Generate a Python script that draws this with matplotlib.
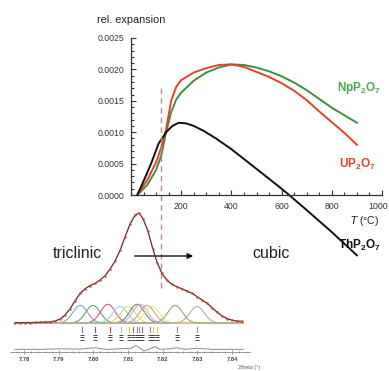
import matplotlib
matplotlib.use('Agg')
import matplotlib.pyplot as plt
import matplotlib.transforms as mtransforms
import numpy as np

plt.rcParams['font.family'] = ['Liberation Sans', 'DejaVu Sans']
plt.rcParams['mathtext.default'] = 'regular'

# relative thermal expansion vs temperature (degC)
temp_np = [25, 65, 100, 120, 140, 160, 180, 200, 250, 300, 350, 400, 450, 500, 550, 600, 650, 700, 750, 800, 850, 900]
exp_np = [0, 0.00016, 0.00040, 0.00062, 0.00100, 0.00132, 0.00152, 0.00163, 0.00182, 0.00195, 0.00203, 0.00208,
          0.00207, 0.00203, 0.00197, 0.00189, 0.00179, 0.00167, 0.00153, 0.00139, 0.00127, 0.00115]

temp_u = [25, 65, 100, 120, 140, 160, 180, 200, 250, 300, 350, 400, 450, 500, 550, 600, 650, 700, 750, 800, 850, 900]
exp_u = [0, 0.00024, 0.00052, 0.00075, 0.00105, 0.00150, 0.00172, 0.00183, 0.00195, 0.00202, 0.00207, 0.00208,
         0.00204, 0.00196, 0.00188, 0.00178, 0.00166, 0.00151, 0.00133, 0.00116, 0.00099, 0.00080]

temp_th = [25, 50, 80, 110, 140, 165, 190, 220, 250, 290, 335, 400, 470, 540, 600, 630, 700, 800, 900]
exp_th = [0, 0.00022, 0.00050, 0.00082, 0.00100, 0.00110, 0.00115, 0.00114, 0.00110, 0.00102, 0.00091, 0.00073,
          0.00051, 0.00029, 0.00010, 0.0, -0.00024, -0.00059, -0.00096]

transition_T = 120

# powder pattern inset (2theta, intensity in arb. units)
obs_2th = [7.7774, 7.7788, 7.7803, 7.7817, 7.7832, 7.7846, 7.7860, 7.7875, 7.7889, 7.7904, 7.7918, 7.7933,
           7.7947, 7.7962, 7.7976, 7.7990, 7.8005, 7.8019, 7.8034, 7.8048, 7.8062, 7.8077, 7.8091, 7.8106,
           7.8120, 7.8132, 7.8143, 7.8157, 7.8172, 7.8184, 7.8198, 7.8212, 7.8227, 7.8241, 7.8256, 7.8270,
           7.8285, 7.8299, 7.8313, 7.8328, 7.8342, 7.8357, 7.8371, 7.8386, 7.8400, 7.8414, 7.8429]
obs_int = [0.3, 0.2, 0.4, 0.3, 0.5, 0.6, 0.8, 1.0, 1.8, 3.5, 7, 13,
           20, 27, 31, 34, 36, 39, 43, 49, 56, 66, 78, 90,
           98, 100, 95, 84, 67, 55, 45, 39, 35, 33, 31, 29,
           27, 24, 21, 18, 14, 10, 6.5, 4, 2.5, 1.8, 1.4]

comp_centers = [7.7962, 7.7999, 7.8042, 7.8077, 7.8100, 7.8126, 7.8135, 7.8155, 7.8169, 7.8236, 7.8299]
comp_heights = [16, 16, 17, 15, 15, 17, 17, 16, 15, 16, 15]
comp_sigma = 0.0021
comp_colors = ['#7aa6d6', '#5f9f6f', '#c4569a', '#9dd3e6', '#e8dc5a', '#5e8f62', '#e7a3c6',
               '#b7a88a', '#f2e36e', '#9fa86a', '#b0b0b0']

refl_pos = [7.7967, 7.8005, 7.8048, 7.8080, 7.8103, 7.8114, 7.8126, 7.8132, 7.8140,
            7.8163, 7.8172, 7.8184, 7.8241, 7.8299]
refl_colors = ['#5a7fb5', '#666666', '#d0303a', '#8cc8e0', '#e0c840', '#777777', '#888888',
               '#999999', '#777777', '#c07090', '#e0d050', '#e0c840', '#888888', '#999999']

diff_2th = [7.7774, 7.7846, 7.7904, 7.7962, 7.8005, 7.8034, 7.8077, 7.8109, 7.8123, 7.8135, 7.8146,
            7.8163, 7.8178, 7.8192, 7.8221, 7.8241, 7.8264, 7.8299, 7.8342, 7.8432]
diff_int = [-24, -24, -23.5, -23.8, -22.5, -24, -23.5, -23, -20.5, -23, -25.5,
            -23.5, -21.5, -24, -23.5, -22.5, -24, -23, -24, -24]

W, H = 389.0, 371.0
fig = plt.figure(figsize=(W / 100, H / 100), dpi=100)


def box(x0, y0, x1, y1):
    # pixel box (top-left origin) -> figure rect
    return [x0 / W, 1 - y1 / H, (x1 - x0) / W, (y1 - y0) / H]


def ftext(x, y, s, **kw):
    fig.text(x / W, 1 - y / H, s, **kw)


# ---- main expansion plot
ax = fig.add_axes(box(131, 31.7, 382, 270.4))
ax.patch.set_alpha(0)
ax.plot(temp_np, exp_np, color='#3e8e3e', lw=1.4)
ax.plot(temp_u, exp_u, color='#e5412a', lw=1.4)
ax.plot(temp_th, exp_th, color='#111111', lw=1.4)
ax.plot([transition_T, transition_T], [0.0017, -0.00151], ls=(0, (4, 3)), color='#b98c8c', lw=1.0, clip_on=False)

ax.set_xlim(0, 1000)
ax.set_ylim(-0.0012, 0.0026)
for s in ['top', 'right']:
    ax.spines[s].set_visible(False)
ax.spines['left'].set_bounds(0, 0.0025)
ax.spines['bottom'].set_position(('data', 0))
ax.spines['bottom'].set_bounds(0, 1000)
for s in ['left', 'bottom']:
    ax.spines[s].set_color('#333333')
    ax.spines[s].set_linewidth(0.9)

ax.set_yticks([0, 0.0005, 0.0010, 0.0015, 0.0020, 0.0025])
ax.set_yticklabels(['0.0000', '0.0005', '0.0010', '0.0015', '0.0020', '0.0025'])
ax.set_yticks(np.arange(0, 0.00251, 0.0001), minor=True)
ax.set_xticks([200, 400, 600, 800, 1000])
ax.set_xticks(np.arange(0, 1001, 50), minor=True)
ax.tick_params(which='both', direction='in', colors='#333333', width=0.8)
ax.tick_params(which='major', length=3.5, labelsize=6.3)
ax.tick_params(which='minor', length=2)
ax.tick_params(axis='y', pad=5)
ax.tick_params(axis='x', pad=5)

# nudge the last x label so it stays inside the picture
last = ax.get_xticklabels()[-1]
last.set_transform(last.get_transform() + mtransforms.ScaledTranslation(-3 / 72, 0, fig.dpi_scale_trans))

ftext(97, 20, 'rel. expansion', fontsize=7.8, color='#222222', va='center')
ftext(350, 221, r'$\it{T}$ (°C)', fontsize=7.5, color='#222222', va='center')
ftext(359, 88, r'NpP$_2$O$_7$', fontsize=8.5, color='#4caa4c', fontweight='bold', ha='center', va='center')
ftext(357, 164, r'UP$_2$O$_7$', fontsize=8.5, color='#e5412a', fontweight='bold', ha='center', va='center')
ftext(359, 245, r'ThP$_2$O$_7$', fontsize=8.5, color='#111111', fontweight='bold', ha='center', va='center')

# ---- powder pattern inset
axi = fig.add_axes(box(10, 205, 250, 352))
axi.patch.set_alpha(0)
xx = np.linspace(7.7774, 7.8432, 400)
axi.plot([7.7774, 7.8432], [0, 0], color='#b5a878', lw=0.6)
for c, h, col in zip(comp_centers, comp_heights, comp_colors):
    axi.plot(xx, h * np.exp(-0.5 * ((xx - c) / comp_sigma) ** 2), color=col, lw=0.8)
axi.plot(obs_2th, obs_int, color='#4a3434', lw=0.9)
axi.plot(obs_2th, obs_int, 'o', color='#d9472b', ms=1.8, mew=0)

for p, col in zip(refl_pos, refl_colors):
    axi.plot([p, p], [-4, -8], color=col, lw=0.8)
    axi.plot([p, p, p], [-10.5, -13, -15.5], '_', color='#444444', ms=2.5, mew=0.7)
axi.plot(diff_2th, diff_int, color='#6f9a6f', lw=0.7)

axi.set_xlim(7.77596, 7.84519)
axi.set_ylim(-26.4, 107.3)
for s in ['top', 'right', 'left']:
    axi.spines[s].set_visible(False)
axi.spines['bottom'].set_color('#888888')
axi.spines['bottom'].set_linewidth(0.6)
axi.set_yticks([])
axi.set_xticks([7.78, 7.79, 7.80, 7.81, 7.82, 7.83, 7.84])
axi.set_xticklabels(['7.78', '7.79', '7.80', '7.81', '7.82', '7.83', '7.84'], fontweight='bold')
axi.set_xticks(np.arange(7.778, 7.8441, 0.002), minor=True)
axi.tick_params(which='both', direction='inout', colors='#777777', width=0.5, labelsize=4.2,
                labelcolor='#444444', pad=2)
axi.tick_params(which='major', length=2.5)
axi.tick_params(which='minor', length=1.5)
ftext(238, 368, '2theta (°)', fontsize=3.8, color='#555555', ha='left', va='center')

# ---- transition annotation
ftext(77, 253, 'triclinic', fontsize=11.5, color='#222222', ha='center', va='center')
ftext(271, 254, 'cubic', fontsize=11.5, color='#222222', ha='center', va='center')
ax.annotate('', xy=(196 / W, 1 - 256 / H), xytext=(132 / W, 1 - 256 / H), xycoords='figure fraction',
            arrowprops=dict(arrowstyle='-|>', color='#111111', lw=1.0, mutation_scale=8))

fig.savefig('out.png', dpi=100)
